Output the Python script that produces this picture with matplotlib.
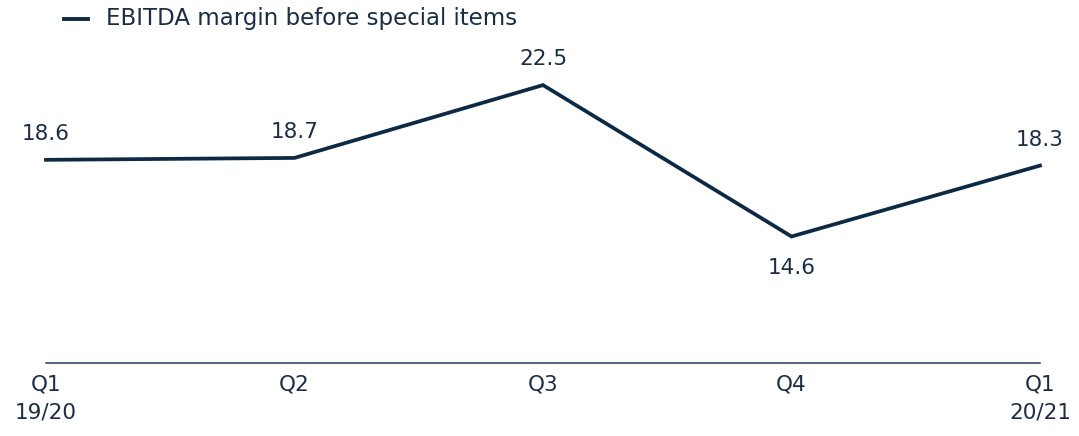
import matplotlib
matplotlib.use("Agg")
import matplotlib.pyplot as plt

categories = ["Q1\n19/20", "Q2", "Q3", "Q4", "Q1\n20/21"]
values = [18.6, 18.7, 22.5, 14.6, 18.3]
label_pos = ["above", "above", "above", "below", "above"]
series_name = "EBITDA margin before special items"

LINE = "#0d2a45"
TEXT = "#1b2d45"
plt.rcParams['font.family'] = ['DejaVu Sans']

W, H = 1079, 436
fig = plt.figure(figsize=(W / 100, H / 100), dpi=100)
left, right, top, bottom = 46, 1040, 18, 363
ax = fig.add_axes([left / W, 1 - bottom / H, (right - left) / W, (bottom - top) / H])

x = list(range(len(values)))
ax.plot(x, values, color=LINE, lw=2.7, clip_on=False, solid_joinstyle='miter')
ax.set_xlim(0, len(values) - 1)
ax.set_ylim(8, 26)

px = 72 / 100
for xi, v, pos in zip(x, values, label_pos):
    dy = 26 if pos == "above" else -31
    ax.annotate(f"{v:.1f}", (xi, v), xytext=(0, dy * px), textcoords="offset points",
                ha="center", va="center", fontsize=15.5, color=TEXT)

for s in ["top", "right", "left"]:
    ax.spines[s].set_visible(False)
ax.spines["bottom"].set_color("#1f3a56")
ax.spines["bottom"].set_linewidth(1.1)
ax.set_yticks([])
ax.set_xticks(x)
ax.set_xticklabels(categories, fontsize=15.5, color=TEXT, linespacing=1.55)
ax.tick_params(axis="x", length=0, pad=8)

# legend
fig.add_artist(plt.Line2D([64 / W, 88 / W], [1 - 19 / H, 1 - 19 / H], color=LINE, lw=2.8))
fig.text(106 / W, 1 - 19 / H, series_name, fontsize=16.5, color=TEXT, ha="left", va="center")

fig.savefig("out.png", dpi=100)
